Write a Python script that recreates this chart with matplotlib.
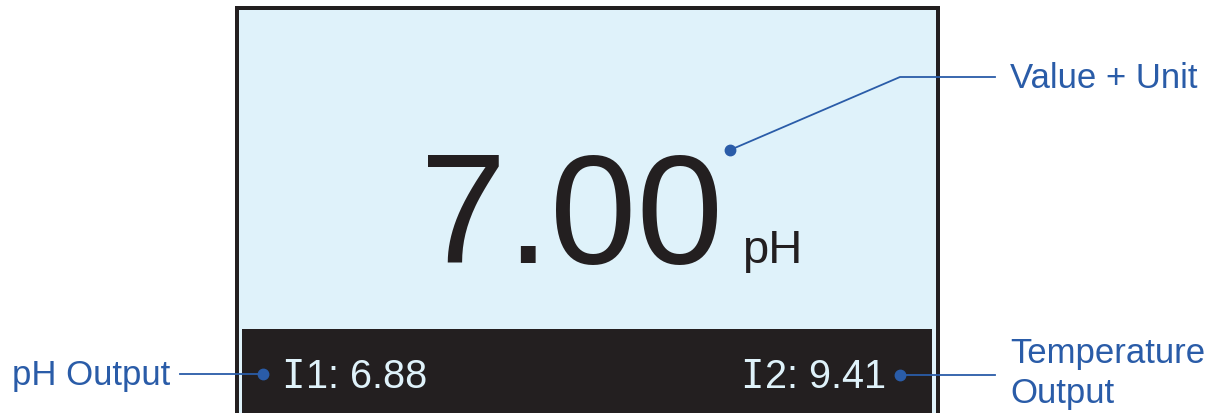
import matplotlib.pyplot as plt
from matplotlib.patches import Rectangle

# Contenu de l'écran
valeur = "7.00"
unite = "pH"
sorties = ["I1", "I2"]
valeurs_sorties = [6.88, 9.41]
legendes = ["Value + Unit", "pH Output", "Temperature\nOutput"]

noir = "#231F20"
bleu_clair = "#DFF2FA"
bleu = "#2A5CA8"

plt.rcParams['font.family'] = ['Liberation Sans', 'DejaVu Sans']

fig = plt.figure(figsize=(12.15, 4.14), dpi=100)
ax = fig.add_axes([0, 0, 1, 1])
ax.set_xlim(0, 1215)
ax.set_ylim(414, 0)
ax.axis('off')

# Cadre de l'écran
ax.add_patch(Rectangle((235, 7), 705, 420, facecolor=noir, edgecolor='none'))
ax.add_patch(Rectangle((239, 11), 697, 420, facecolor=bleu_clair, edgecolor='none'))
ax.add_patch(Rectangle((242, 330), 690, 100, facecolor=noir, edgecolor='none'))

# Valeur principale
ax.text(420, 263, valeur, fontsize=112, color=noir, ha='left', va='baseline')
ax.text(742, 263, unite, fontsize=34, color=noir, ha='left', va='baseline')

# Sorties en bas
for xg, nom, v in zip([281, 740], sorties, valeurs_sorties):
    ax.text(xg, 388, nom[0], fontsize=28, color=bleu_clair, ha='left', va='baseline',
            family='DejaVu Sans Mono')
    ax.text(xg + 25, 388, f"{nom[1:]}: {v:.2f}", fontsize=28.5, color=bleu_clair,
            ha='left', va='baseline')

# Annotations
lw = 1.3
ax.plot([730, 900, 995], [151, 78, 78], color=bleu, lw=lw)
ax.plot(730, 151, 'o', color=bleu, ms=7.5)
ax.text(1010, 78, legendes[0], fontsize=25, color=bleu, ha='left', va='center')

ax.plot([180, 263], [375, 375], color=bleu, lw=lw)
ax.plot(263, 375, 'o', color=bleu, ms=7.5)
ax.text(170, 376, legendes[1], fontsize=25, color=bleu, ha='right', va='center')

ax.plot([900, 995], [376, 376], color=bleu, lw=lw)
ax.plot(900, 376, 'o', color=bleu, ms=7.5)
ax.text(1010, 363, legendes[2].split("\n")[0], fontsize=25, color=bleu, ha='left', va='baseline')
ax.text(1010, 403, legendes[2].split("\n")[1], fontsize=25, color=bleu, ha='left', va='baseline')

plt.savefig('out.png', dpi=100)
